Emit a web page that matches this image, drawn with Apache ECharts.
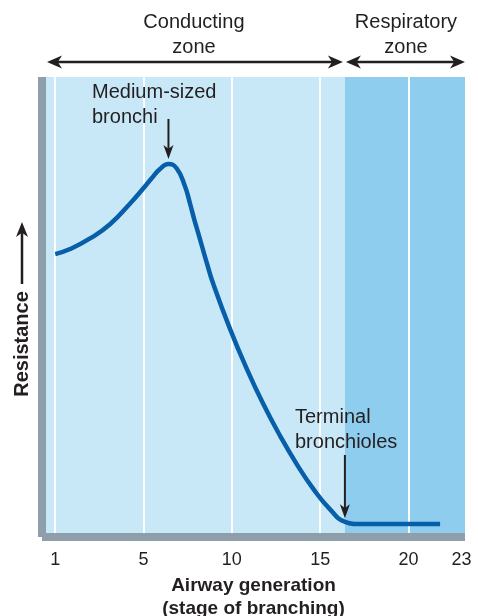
<!DOCTYPE html>
<html><head><meta charset="utf-8">
<script src="https://cdn.jsdelivr.net/npm/echarts@6/dist/echarts.min.js"></script>
<style>html,body{margin:0;padding:0;background:#fff}#c{width:478px;height:616px}</style>
</head><body><div id="c"></div>
<script>
// Airway generation (axis units; first tick is labelled "1")
const generation = [0, 0.84, 1.97, 3.10, 4.24, 4.99, 5.46, 5.93, 6.41, 6.88, 7.35, 7.63, 7.88, 8.10, 8.58, 8.95, 9.90, 10.84, 11.78, 12.73, 13.68, 14.62, 15.56, 16.41, 17.25, 21.79];
// Relative resistance (arbitrary units)
const resistance = [61.5, 62.6, 64.9, 68.0, 72.5, 75.8, 78.0, 80.0, 81.1, 80.1, 76.2, 72.5, 68.9, 66.0, 59.6, 55.0, 45.2, 36.6, 28.9, 22.0, 15.8, 10.4, 6.0, 3.3, 2.8, 2.8];
const tickValues = [0, 5, 10, 15, 20, 23];
const tickLabels = ['1', '5', '10', '15', '20', '23'];
const gridValues = [0, 5, 10, 15, 20];
const zoneBoundary = 16.4;
const peakGen = 6.41, peakRes = 81.1;
const terminalGen = 16.4, terminalRes = 3.0;

const FONT = '"Liberation Sans", Arial, Helvetica, sans-serif';
const INK = '#231f20';
const X_MIN = -0.75, X_MAX = 23.2;

const chart = echarts.init(document.getElementById('c'), null, {renderer: 'canvas'});
const option = {
  animation: false,
  backgroundColor: '#ffffff',
  grid: {left: 42, right: 13, top: 77, bottom: 79, containLabel: false, outerBoundsMode: 'none'},
  xAxis: {
    type: 'value', min: X_MIN, max: X_MAX, z: 5,
    axisLine: {show: true, onZero: false, lineStyle: {color: '#8e9eab', width: 8, cap: 'butt'}},
    axisTick: {show: false},
    splitLine: {show: false},
    axisLabel: {
      customValues: tickValues, margin: 14, fontSize: 18, color: INK, fontFamily: FONT,
      formatter: v => tickLabels[tickValues.indexOf(v)] ?? ''
    },
    name: 'Airway generation\n(stage of branching)', nameLocation: 'middle', nameGap: 34,
    nameTextStyle: {fontSize: 19, fontWeight: 'bold', color: INK, fontFamily: FONT, lineHeight: 23}
  },
  yAxis: {
    type: 'value', min: 0, max: 100, z: 5,
    axisLine: {show: true, onZero: false, lineStyle: {color: '#8e9eab', width: 8, cap: 'butt'}},
    axisTick: {show: false}, axisLabel: {show: false}, splitLine: {show: false}
  },
  series: [
    {
      type: 'line', data: [], z: 1, silent: true,
      markArea: {
        silent: true, z: 1,
        data: [
          [{xAxis: X_MIN, itemStyle: {color: '#c8e8f8'}}, {xAxis: zoneBoundary}],
          [{xAxis: zoneBoundary, itemStyle: {color: '#8fcdef'}}, {xAxis: X_MAX}]
        ]
      }
    },
    {
      type: 'line', data: [], z: 2, silent: true,
      markLine: {
        silent: true, z: 2, symbol: ['none', 'none'], label: {show: false},
        lineStyle: {color: '#ffffff', width: 2, type: 'solid', opacity: 0.95},
        data: gridValues.map(v => ({xAxis: v}))
      }
    },
    {
      type: 'line', z: 4,
      data: generation.map((g, i) => [g, resistance[i]]),
      smooth: 0.5, showSymbol: false,
      lineStyle: {color: '#075ea9', width: 4.5, cap: 'butt', join: 'round'}
    }
  ]
};
chart.setOption(option);

function head(tx, ty, dx, dy, L, W) {
  const len = Math.hypot(dx, dy); dx /= len; dy /= len;
  const nx = -dy, ny = dx;
  return {
    type: 'polygon', z: 20,
    shape: {points: [
      [tx, ty],
      [tx - dx * L + nx * W, ty - dy * L + ny * W],
      [tx - dx * L * 0.72, ty - dy * L * 0.72],
      [tx - dx * L - nx * W, ty - dy * L - ny * W]
    ]},
    style: {fill: INK}
  };
}
function arrow(x1, y1, x2, y2, both, w, L, W) {
  const els = [];
  const dx = x2 - x1, dy = y2 - y1, len = Math.hypot(dx, dy);
  const ux = dx / len, uy = dy / len;
  const s1 = both ? L * 0.7 : 0, s2 = L * 0.7;
  els.push({type: 'line', z: 20, shape: {x1: x1 + ux * s1, y1: y1 + uy * s1, x2: x2 - ux * s2, y2: y2 - uy * s2},
    style: {stroke: INK, lineWidth: w}});
  els.push(head(x2, y2, dx, dy, L, W));
  if (both) els.push(head(x1, y1, -dx, -dy, L, W));
  return els;
}
function text(x, y, str, opts) {
  return Object.assign({type: 'text', z: 20, x: x, y: y,
    style: Object.assign({text: str, fill: INK, font: '20px ' + FONT, align: 'center', verticalAlign: 'middle', lineHeight: 25}, opts || {})});
}

const px = p => chart.convertToPixel({gridIndex: 0}, p);
const plotLeft = px([X_MIN, 0])[0], plotRight = px([X_MAX, 0])[0];
const bnd = px([zoneBoundary, 0])[0];
const plotTop = px([0, 100])[1];
const peak = px([peakGen, peakRes]);
const term = px([terminalGen, terminalRes]);

let g = [];
// zone arrows above the plot
g = g.concat(arrow(plotLeft + 5, plotTop - 15, bnd - 2, plotTop - 15, true, 2.5, 15, 6.5));
g = g.concat(arrow(bnd + 1, plotTop - 15, plotRight, plotTop - 15, true, 2.5, 15, 6.5));
g.push(text((plotLeft + 5 + bnd) / 2 - 2, plotTop - 42, 'Conducting\nzone'));
g.push(text((bnd + plotRight) / 2 + 1, plotTop - 42, 'Respiratory\nzone'));
// medium-sized bronchi
g.push(text(92, 105, 'Medium-sized\nbronchi', {align: 'left'}));
g = g.concat(arrow(peak[0], peak[1] - 45, peak[0], peak[1] - 5, false, 2, 14, 5));
// terminal bronchioles
g.push(text(295, 430, 'Terminal\nbronchioles', {align: 'left'}));
g = g.concat(arrow(term[0], 455, term[0], term[1] - 5, false, 2, 14, 5));
// Resistance axis label with arrow
g.push({type: 'text', z: 20, x: 22, y: 344, rotation: Math.PI / 2,
  style: {text: 'Resistance', fill: INK, font: 'bold 20px ' + FONT, align: 'center', verticalAlign: 'middle'}});
g = g.concat(arrow(22, 284, 22, 222, false, 2.5, 15, 6));

chart.setOption({graphic: g});
</script>
</body></html>
